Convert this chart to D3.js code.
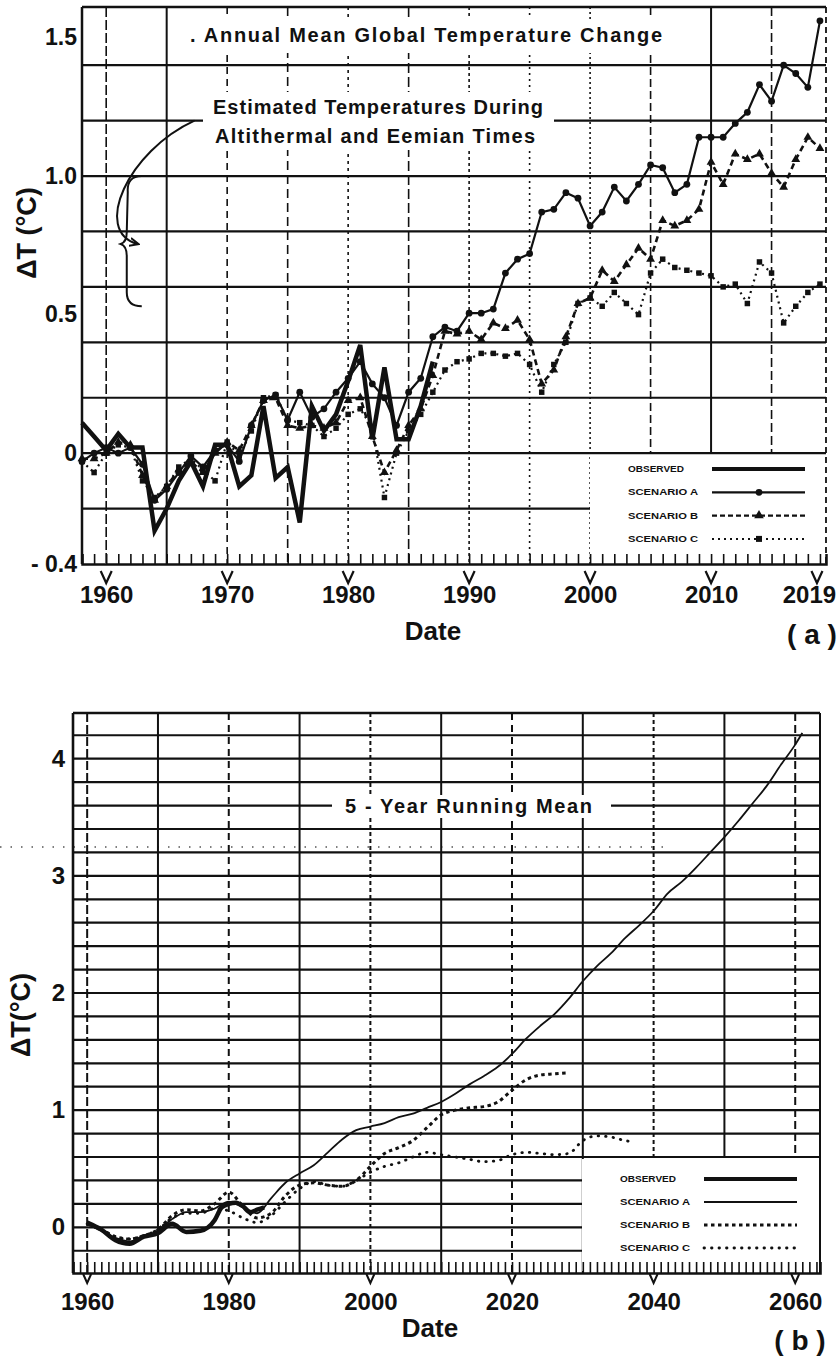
<!DOCTYPE html>
<html>
<head>
<meta charset="utf-8">
<script src="https://cdn.jsdelivr.net/npm/d3@7"></script>
<style>
  body { margin: 0; background: #fff; }
  svg text { font-family: "Liberation Sans", Arial, sans-serif; font-weight: bold; fill: #111; }
</style>
</head>
<body>
<svg id="chart" width="840" height="1360"></svg>
<script>
// ---------- panel (a): annual mean values ----------
const yearsA = [1958,1959,1960,1961,1962,1963,1964,1965,1966,1967,1968,1969,
  1970,1971,1972,1973,1974,1975,1976,1977,1978,1979,
  1980,1981,1982,1983,1984,1985,1986,1987,1988,1989,
  1990,1991,1992,1993,1994,1995,1996,1997,1998,1999,
  2000,2001,2002,2003,2004,2005,2006,2007,2008,2009,
  2010,2011,2012,2013,2014,2015,2016,2017,2018,2019];

const observedA = [0.11,0.06,0.01,0.07,0.02,0.02,-0.28,-0.20,-0.10,-0.03,-0.12,0.03,
  0.03,-0.12,-0.08,0.17,-0.09,-0.05,-0.25,0.17,0.08,0.14,
  0.26,0.39,0.05,0.31,0.05,0.05,0.17,0.33];

const scenAa = [-0.03,0.00,0.02,0.00,0.02,-0.04,-0.17,-0.13,-0.07,-0.01,-0.05,0.01,
  0.03,-0.03,0.10,0.19,0.21,0.12,0.22,0.13,0.16,0.22,
  0.27,0.33,0.25,0.20,0.10,0.22,0.27,0.42,0.455,0.44,
  0.505,0.505,0.52,0.65,0.70,0.72,0.87,0.88,0.94,0.92,
  0.82,0.87,0.96,0.91,0.97,1.04,1.03,0.94,0.97,1.14,
  1.14,1.14,1.19,1.23,1.33,1.27,1.40,1.37,1.32,1.56];

const scenBa = [-0.02,-0.02,0.00,0.04,0.03,-0.08,-0.17,-0.12,-0.06,-0.03,-0.07,0.00,
  0.04,0.01,0.10,0.19,0.20,0.10,0.09,0.10,0.09,0.11,
  0.19,0.20,0.06,-0.07,0.01,0.10,0.16,0.28,0.44,0.43,
  0.44,0.41,0.47,0.45,0.48,0.41,0.25,0.30,0.42,0.54,
  0.56,0.66,0.62,0.68,0.74,0.70,0.84,0.82,0.84,0.88,
  1.05,0.97,1.08,1.06,1.08,1.01,0.96,1.06,1.14,1.10];

const scenCa = [-0.03,-0.07,0.00,0.03,0.02,-0.10,-0.16,-0.12,-0.05,-0.02,-0.06,-0.10,
  0.04,-0.01,0.08,0.20,0.21,0.12,0.11,0.10,0.06,0.09,
  0.14,0.16,0.09,-0.16,0.00,0.08,0.14,0.22,0.30,0.33,
  0.34,0.36,0.36,0.35,0.36,0.32,0.22,0.32,0.40,0.54,
  0.56,0.53,0.58,0.54,0.50,0.65,0.70,0.67,0.66,0.65,
  0.64,0.60,0.61,0.54,0.69,0.65,0.47,0.53,0.58,0.61];

const xTicksA = [1960,1970,1980,1990,2000,2010,2019];
const xLabelsA = ["1960","1970","1980","1990","2000","2010","2019"];
const yTicksA = [1.5,1.0,0.5,0,-0.4];
const yLabelsA = ["1.5","1.0","0.5","0","- 0.4"];

// ---------- panel (b): 5-year running mean ----------
const obsYearsB = [1960,1962,1964,1966,1968,1970,1972,1974,1976,1978,1979,1980,1981,1982,1983,1984,1985];
const obsB = [0.04,-0.02,-0.11,-0.14,-0.08,-0.05,0.03,-0.04,-0.03,0.06,0.17,0.20,0.21,0.18,0.13,0.15,0.17];

const yearsBA = [1960,1962,1964,1966,1968,1970,1972,1974,1976,1978,
  1980,1982,1984,1986,1988,1990,1992,1994,1996,1998,
  2000,2002,2004,2006,2008,2010,2012,2014,2016,2018,
  2020,2022,2024,2026,2028,2030,2032,2034,2036,2038,
  2040,2042,2044,2046,2048,2050,2052,2054,2056,2058,2060,2061];
const scenAb = [0.03,-0.03,-0.09,-0.12,-0.08,-0.03,0.07,0.13,0.13,0.16,
  0.22,0.17,0.12,0.25,0.38,0.46,0.53,0.64,0.75,0.83,
  0.86,0.89,0.94,0.97,1.02,1.07,1.14,1.22,1.29,1.37,
  1.48,1.61,1.72,1.82,1.95,2.10,2.23,2.34,2.47,2.58,
  2.70,2.85,2.95,3.07,3.20,3.33,3.47,3.62,3.77,3.95,4.12,4.22];

const yearsBB = [1960,1962,1964,1966,1968,1970,1972,1974,1976,1978,
  1980,1982,1984,1986,1988,1990,1992,1994,1996,1998,
  2000,2002,2004,2006,2008,2010,2012,2014,2016,2018,
  2020,2022,2024,2026,2028];
const scenBb = [0.03,-0.02,-0.08,-0.10,-0.07,-0.02,0.10,0.15,0.14,0.20,
  0.30,0.18,0.08,0.12,0.27,0.36,0.38,0.36,0.35,0.40,
  0.52,0.63,0.68,0.74,0.85,0.96,1.00,1.02,1.03,1.07,
  1.17,1.26,1.30,1.31,1.32];

const yearsBC = [1960,1962,1964,1966,1968,1970,1972,1974,1976,1978,
  1980,1982,1984,1986,1988,1990,1992,1994,1996,1998,
  2000,2002,2004,2006,2008,2010,2012,2014,2016,2018,
  2020,2022,2024,2026,2028,2030,2032,2034,2036,2037];
const scenCb = [0.03,-0.02,-0.08,-0.10,-0.07,-0.02,0.08,0.12,0.12,0.16,
  0.14,0.08,0.04,0.10,0.22,0.33,0.39,0.36,0.35,0.40,
  0.47,0.52,0.55,0.60,0.64,0.62,0.60,0.58,0.56,0.57,
  0.62,0.64,0.63,0.62,0.63,0.74,0.78,0.77,0.74,0.73];

const xTicksB = [1960,1980,2000,2020,2040,2060];
const xLabelsB = ["1960","1980","2000","2020","2040","2060"];
const yTicksB = [4,3,2,1,0];
const yLabelsB = ["4","3","2","1","0"];

const legendNames = ["OBSERVED","SCENARIO A","SCENARIO B","SCENARIO C"];

const ink = "#111";
const svg = d3.select("#chart");
svg.append("rect").attr("width", 840).attr("height", 1360).attr("fill", "#fff");

function pairs(xs, ys) { return ys.map((v, i) => ({year: xs[i], value: v})); }

function knockout(g, x, y, w, h) {
  g.append("rect").attr("x", x).attr("y", y).attr("width", w).attr("height", h).attr("fill", "#fff");
}

function vMark(g, x, y, w, h, sw) {
  g.append("path").attr("d", `M${x - w / 2},${y}L${x},${y + h}L${x + w / 2},${y}`)
    .attr("fill", "none").attr("stroke", ink).attr("stroke-width", sw);
}

// =================== PANEL (a) ===================
const xa = d3.scaleLinear().domain([1958, 2019.5]).range([82, 826]);
const ya = d3.scaleLinear().domain([-0.4, 1.61]).range([564, 7]);
const ga = svg.append("g");

// horizontal grid every 0.2
[1.4, 1.2, 1.0, 0.8, 0.6, 0.4, 0.2, 0, -0.2].forEach(v => {
  ga.append("line")
    .attr("x1", xa(1958)).attr("x2", v === -0.2 ? xa(2000) : xa(2019.5))
    .attr("y1", ya(v)).attr("y2", ya(v))
    .attr("stroke", ink).attr("stroke-width", 2.2);
});

// vertical grid every 5 years, mixed pen styles like the original
const vDashA = ["10,3", null, "7,5", "9,5", "3,4", "10,4", "3,3", "2,4", "2,3", "8,4", null, "9,4"];
[1960,1965,1970,1975,1980,1985,1990,1995,2000,2005,2010,2015].forEach((yr, i) => {
  ga.append("line")
    .attr("x1", xa(yr)).attr("x2", xa(yr))
    .attr("y1", ya(1.61)).attr("y2", yr > 2000 ? ya(0) : ya(-0.4))
    .attr("stroke", ink).attr("stroke-width", i === 1 || i === 10 ? 2 : 1.6)
    .attr("stroke-dasharray", vDashA[i]);
});

// white areas behind the titles and the legend
knockout(ga, 186, 19, 482, 34);
knockout(ga, 203, 92, 351, 58);
knockout(ga, 590, ya(0) + 2, 234, ya(-0.4) - ya(0) - 4);

// frame
ga.append("line").attr("x1", xa(1958)).attr("x2", xa(2019.5)).attr("y1", ya(1.61)).attr("y2", ya(1.61))
  .attr("stroke", ink).attr("stroke-width", 2.5);
ga.append("line").attr("x1", xa(1958)).attr("x2", xa(1958)).attr("y1", ya(1.61)).attr("y2", ya(-0.4))
  .attr("stroke", ink).attr("stroke-width", 2.5);
ga.append("line").attr("x1", xa(2019.5)).attr("x2", xa(2019.5)).attr("y1", ya(1.61)).attr("y2", ya(-0.4))
  .attr("stroke", ink).attr("stroke-width", 1.8).attr("stroke-dasharray", "6,4");

// bottom axis with yearly ticks pointing up
const axA = ga.append("g").attr("transform", `translate(0,${ya(-0.4)})`)
  .call(d3.axisBottom(xa).tickValues(d3.range(1958, 2020)).tickSize(-10).tickFormat(""));
axA.select(".domain").attr("stroke", ink).attr("stroke-width", 2.5);
axA.selectAll(".tick line").attr("stroke", ink).attr("stroke-width", 1.6);

// decade labels
const labA = ga.append("g").attr("transform", `translate(0,${ya(-0.4) + 22})`)
  .call(d3.axisBottom(xa).tickValues(xTicksA).tickSize(0).tickPadding(0)
    .tickFormat((d, i) => xLabelsA[i]));
labA.select(".domain").remove();
labA.selectAll("text").attr("font-size", 24).attr("dy", "0.72em").style("fill", ink)
  .attr("dx", d => d === 2019 ? -11 : 0);
xTicksA.forEach(yr => vMark(ga, xa(yr) - (yr === 2019 ? 3 : 0), ya(-0.4) + 7, 11, 12, 2.2));

// y labels
const yaxA = ga.append("g").attr("transform", `translate(${xa(1958) - 3},0)`)
  .call(d3.axisLeft(ya).tickValues(yTicksA).tickSize(0).tickPadding(2)
    .tickFormat((d, i) => yLabelsA[i]));
yaxA.select(".domain").remove();
yaxA.selectAll("text").attr("font-size", 23).style("fill", ink);

ga.append("text").attr("transform", "translate(36,233) rotate(-90)")
  .attr("text-anchor", "middle").attr("font-size", 27).text("ΔT (°C)");
ga.append("text").attr("x", 433).attr("y", 640).attr("text-anchor", "middle")
  .attr("font-size", 26).text("Date");
ga.append("text").attr("x", 812).attr("y", 644).attr("text-anchor", "middle")
  .attr("font-size", 28).attr("font-weight", "normal").text("( a )");

// titles
ga.append("text").attr("x", 190).attr("y", 42).attr("font-size", 20)
  .attr("textLength", 472).attr("lengthAdjust", "spacing")
  .text(". Annual  Mean  Global  Temperature  Change");
ga.append("text").attr("x", 213).attr("y", 114).attr("font-size", 20)
  .attr("textLength", 330).attr("lengthAdjust", "spacing")
  .text("Estimated  Temperatures  During");
ga.append("text").attr("x", 215).attr("y", 143).attr("font-size", 20)
  .attr("textLength", 320).attr("lengthAdjust", "spacing")
  .text("Altithermal  and  Eemian  Times");

// curved arrow and brace
svg.append("defs").append("marker").attr("id", "arr")
  .attr("viewBox", "0 0 10 10").attr("refX", 8).attr("refY", 5)
  .attr("markerWidth", 5).attr("markerHeight", 5).attr("orient", "auto")
  .append("path").attr("d", "M0,1L9,5L0,9").attr("fill", "none").attr("stroke", ink).attr("stroke-width", 2);
const arrowPath = d3.path();
arrowPath.moveTo(xa(1967.3), ya(1.20));
arrowPath.bezierCurveTo(xa(1961.8), ya(1.09), xa(1958.8), ya(0.80), xa(1962.6), ya(0.755));
ga.append("path").attr("d", arrowPath.toString()).attr("fill", "none")
  .attr("stroke", ink).attr("stroke-width", 2).attr("marker-end", "url(#arr)");

const bx = xa(1961.7), bTop = ya(1.0), bBot = ya(0.53), bMid = ya(0.755);
const brace = d3.path();
brace.moveTo(bx + 15, bTop);
brace.quadraticCurveTo(bx, bTop, bx + 1, bTop + 16);
brace.lineTo(bx, bMid - 12);
brace.quadraticCurveTo(bx, bMid - 2, bx - 6, bMid);
brace.quadraticCurveTo(bx, bMid + 2, bx, bMid + 12);
brace.lineTo(bx, bBot - 14);
brace.quadraticCurveTo(bx, bBot, bx + 15, bBot);
ga.append("path").attr("d", brace.toString()).attr("fill", "none")
  .attr("stroke", ink).attr("stroke-width", 2);

// series
const lineA = d3.line().x(d => xa(d.year)).y(d => ya(d.value));
const dataObsA = pairs(yearsA, observedA);
const dataAa = pairs(yearsA, scenAa);
const dataBa = pairs(yearsA, scenBa);
const dataCa = pairs(yearsA, scenCa);

ga.append("path").datum(dataCa).attr("d", lineA).attr("fill", "none")
  .attr("stroke", ink).attr("stroke-width", 2.2).attr("stroke-dasharray", "2,4");
ga.append("path").datum(dataBa).attr("d", lineA).attr("fill", "none")
  .attr("stroke", ink).attr("stroke-width", 2.6).attr("stroke-dasharray", "6,4");
ga.append("path").datum(dataAa).attr("d", lineA).attr("fill", "none")
  .attr("stroke", ink).attr("stroke-width", 2.2);
ga.append("path").datum(dataObsA).attr("d", lineA).attr("fill", "none")
  .attr("stroke", ink).attr("stroke-width", 4.5).attr("stroke-linejoin", "miter");

ga.selectAll("path.mc").data(dataCa).enter().append("path").attr("class", "mc")
  .attr("d", d3.symbol(d3.symbolSquare, 30))
  .attr("transform", d => `translate(${xa(d.year)},${ya(d.value)})`).attr("fill", ink);
ga.selectAll("path.mb").data(dataBa).enter().append("path").attr("class", "mb")
  .attr("d", d3.symbol(d3.symbolTriangle, 34))
  .attr("transform", d => `translate(${xa(d.year)},${ya(d.value)})`).attr("fill", ink);
ga.selectAll("circle.ma").data(dataAa).enter().append("circle").attr("class", "ma")
  .attr("cx", d => xa(d.year)).attr("cy", d => ya(d.value)).attr("r", 3.4).attr("fill", ink);

// legend (a)
const legA = ga.append("g");
legendNames.forEach((name, i) => {
  const yy = 469 + i * 23.3;
  legA.append("text").attr("x", 628).attr("y", yy + 3).attr("font-size", 8.5)
    .attr("textLength", name === "OBSERVED" ? 56 : 70).attr("lengthAdjust", "spacingAndGlyphs").text(name);
  const ln = legA.append("line").attr("x1", 712).attr("x2", 805).attr("y1", yy).attr("y2", yy).attr("stroke", ink);
  if (i === 0) ln.attr("stroke-width", 4);
  if (i === 1) ln.attr("stroke-width", 2.2);
  if (i === 2) ln.attr("stroke-width", 2.4).attr("stroke-dasharray", "5,3");
  if (i === 3) ln.attr("stroke-width", 2).attr("stroke-dasharray", "2,4");
  if (i === 1) legA.append("circle").attr("cx", 759).attr("cy", yy).attr("r", 3.4).attr("fill", ink);
  if (i === 2) legA.append("path").attr("d", d3.symbol(d3.symbolTriangle, 40)).attr("transform", `translate(759,${yy})`).attr("fill", ink);
  if (i === 3) legA.append("path").attr("d", d3.symbol(d3.symbolSquare, 36)).attr("transform", `translate(759,${yy})`).attr("fill", ink);
});

// =================== PANEL (b) ===================
const xb = d3.scaleLinear().domain([1958, 2063.5]).range([73, 820]);
const yb = d3.scaleLinear().domain([-0.39, 4.39]).range([1273, 713]);
const gb = svg.append("g");

// stray scan dots above the 3.2 line
gb.append("line").attr("x1", 0).attr("x2", 665).attr("y1", 847).attr("y2", 847)
  .attr("stroke", "#555").attr("stroke-width", 1.3).attr("stroke-dasharray", "1.5,9");

d3.range(-0.2, 4.3, 0.2).forEach(v => {
  gb.append("line")
    .attr("x1", xb(1958)).attr("x2", v < 0.5 ? xb(2030) : xb(2063.5))
    .attr("y1", yb(v)).attr("y2", yb(v))
    .attr("stroke", ink).attr("stroke-width", 2.2);
});

const vDashB = ["9,3", null, "7,5", null, "4,3", null, "7,5", null, "4,3", null, "8,4"];
[1960,1970,1980,1990,2000,2010,2020,2030,2040,2050,2060].forEach((yr, i) => {
  gb.append("line")
    .attr("x1", xb(yr)).attr("x2", xb(yr))
    .attr("y1", yb(4.39)).attr("y2", yr >= 2040 ? yb(0.6) : yb(-0.39))
    .attr("stroke", ink).attr("stroke-width", 2)
    .attr("stroke-dasharray", vDashB[i]);
});

knockout(gb, 332, 795, 279, 23);
knockout(gb, 582, yb(0.6) + 2, 236, yb(-0.39) - yb(0.6) - 4);

// frame
gb.append("line").attr("x1", xb(1958)).attr("x2", xb(2063.5)).attr("y1", yb(4.39)).attr("y2", yb(4.39))
  .attr("stroke", ink).attr("stroke-width", 2.6);
gb.append("line").attr("x1", xb(1958)).attr("x2", xb(1958)).attr("y1", yb(4.39)).attr("y2", yb(-0.39))
  .attr("stroke", ink).attr("stroke-width", 2.6);
gb.append("line").attr("x1", xb(2063.5)).attr("x2", xb(2063.5)).attr("y1", yb(4.39)).attr("y2", yb(-0.39))
  .attr("stroke", ink).attr("stroke-width", 2);

const axB = gb.append("g").attr("transform", `translate(0,${yb(-0.39)})`)
  .call(d3.axisBottom(xb).tickValues(d3.range(1958, 2064)).tickSize(-11).tickFormat(""));
axB.select(".domain").attr("stroke", ink).attr("stroke-width", 2.6);
axB.selectAll(".tick line").attr("stroke", ink).attr("stroke-width", 1.6);

const labB = gb.append("g").attr("transform", `translate(0,${yb(-0.39) + 20})`)
  .call(d3.axisBottom(xb).tickValues(xTicksB).tickSize(0).tickPadding(0)
    .tickFormat((d, i) => xLabelsB[i]));
labB.select(".domain").remove();
labB.selectAll("text").attr("font-size", 24).attr("dy", "0.72em").style("fill", ink);
xTicksB.forEach(yr => vMark(gb, xb(yr), yb(-0.39) + 1, 8, 9, 2));

const yaxB = gb.append("g").attr("transform", `translate(${xb(1958) - 6},0)`)
  .call(d3.axisLeft(yb).tickValues(yTicksB).tickSize(0).tickPadding(2)
    .tickFormat((d, i) => yLabelsB[i]));
yaxB.select(".domain").remove();
yaxB.selectAll("text").attr("font-size", 24).style("fill", ink);

gb.append("text").attr("transform", "translate(30,1015) rotate(-90)")
  .attr("text-anchor", "middle").attr("font-size", 27).text("ΔT(°C)");
gb.append("text").attr("x", 430).attr("y", 1337).attr("text-anchor", "middle")
  .attr("font-size", 26).text("Date");
gb.append("text").attr("x", 800).attr("y", 1350).attr("text-anchor", "middle")
  .attr("font-size", 28).attr("font-weight", "normal").text("( b )");

gb.append("text").attr("x", 345).attr("y", 813).attr("font-size", 20)
  .attr("textLength", 247).attr("lengthAdjust", "spacing")
  .text("5 - Year  Running  Mean");

const lineB = d3.line().x(d => xb(d.year)).y(d => yb(d.value)).curve(d3.curveMonotoneX);
gb.append("path").datum(pairs(yearsBC, scenCb)).attr("d", lineB).attr("fill", "none")
  .attr("stroke", ink).attr("stroke-width", 2.8).attr("stroke-linecap", "round").attr("stroke-dasharray", "0.5,7");
gb.append("path").datum(pairs(yearsBB, scenBb)).attr("d", lineB).attr("fill", "none")
  .attr("stroke", ink).attr("stroke-width", 3).attr("stroke-dasharray", "3.5,3.5");
gb.append("path").datum(pairs(yearsBA, scenAb)).attr("d", lineB).attr("fill", "none")
  .attr("stroke", ink).attr("stroke-width", 1.8);
gb.append("path").datum(pairs(obsYearsB, obsB)).attr("d", lineB).attr("fill", "none")
  .attr("stroke", ink).attr("stroke-width", 4.5);

// legend (b)
const legB = gb.append("g");
legendNames.forEach((name, i) => {
  const yy = 1179 + i * 23;
  legB.append("text").attr("x", 620).attr("y", yy + 3).attr("font-size", 8.5)
    .attr("textLength", name === "OBSERVED" ? 56 : 70).attr("lengthAdjust", "spacingAndGlyphs").text(name);
  const ln = legB.append("line").attr("x1", 704).attr("x2", 797).attr("y1", yy).attr("y2", yy).attr("stroke", ink);
  if (i === 0) ln.attr("stroke-width", 4);
  if (i === 1) ln.attr("stroke-width", 1.8);
  if (i === 2) ln.attr("stroke-width", 3).attr("stroke-dasharray", "3.5,3.5");
  if (i === 3) ln.attr("stroke-width", 2.8).attr("stroke-linecap", "round").attr("stroke-dasharray", "0.5,7");
});
</script>
</body>
</html>
